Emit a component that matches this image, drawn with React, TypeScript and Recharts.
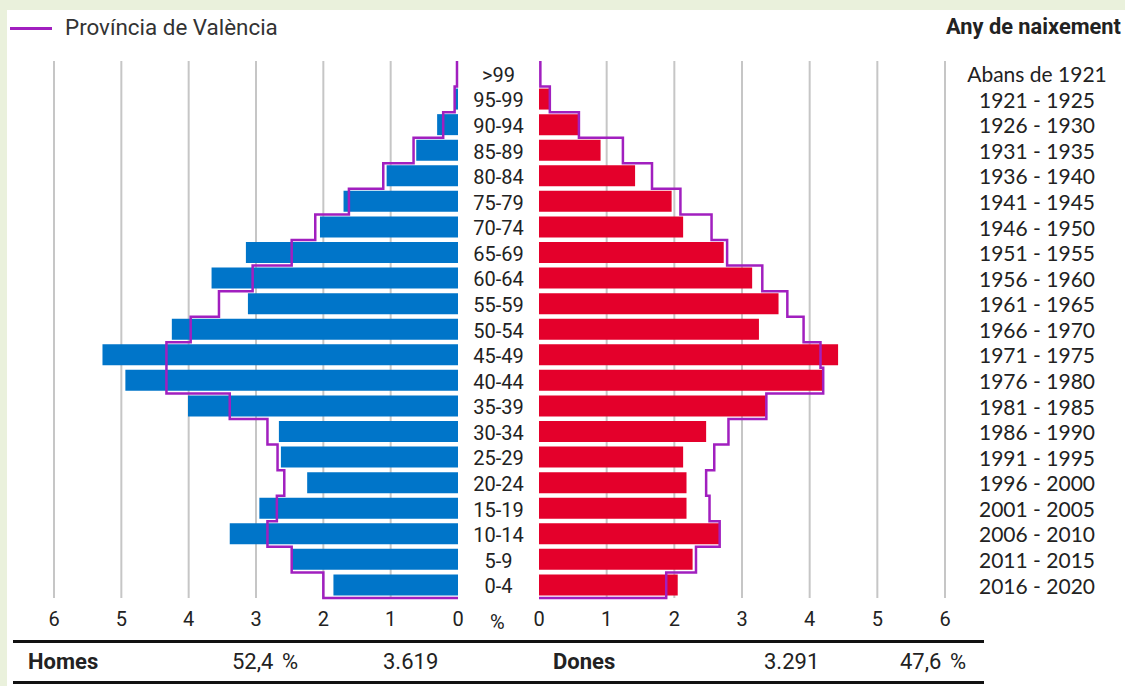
import React from 'react';
import { ComposedChart, Bar, Line, XAxis, YAxis, CartesianGrid } from 'recharts';

// age groups, top of the pyramid first
const ages = ['>99', '95-99', '90-94', '85-89', '80-84', '75-79', '70-74', '65-69', '60-64', '55-59', '50-54',
  '45-49', '40-44', '35-39', '30-34', '25-29', '20-24', '15-19', '10-14', '5-9', '0-4'];

const birthYears = ['Abans de 1921', '1921 - 1925', '1926 - 1930', '1931 - 1935', '1936 - 1940', '1941 - 1945',
  '1946 - 1950', '1951 - 1955', '1956 - 1960', '1961 - 1965', '1966 - 1970', '1971 - 1975', '1976 - 1980',
  '1981 - 1985', '1986 - 1990', '1991 - 1995', '1996 - 2000', '2001 - 2005', '2006 - 2010', '2011 - 2015',
  '2016 - 2020'];

// % of total population
const homes = [0.01, 0.06, 0.31, 0.62, 1.06, 1.70, 2.05, 3.15, 3.66, 3.12, 4.25, 5.28, 4.94, 4.01, 2.66, 2.63,
  2.24, 2.95, 3.39, 2.47, 1.85];
const homesProvincia = [0.015, 0.05, 0.22, 0.66, 1.11, 1.62, 2.12, 2.47, 3.05, 3.55, 3.97, 4.33, 4.33, 3.39, 2.83,
  2.68, 2.58, 2.69, 2.83, 2.47, 2.0];
const dones = [0, 0.15, 0.58, 0.91, 1.42, 1.96, 2.13, 2.73, 3.15, 3.54, 3.25, 4.42, 4.19, 3.35, 2.47, 2.13, 2.18,
  2.18, 2.67, 2.27, 2.05];
const donesProvincia = [0.02, 0.16, 0.59, 1.24, 1.67, 2.09, 2.55, 2.78, 3.30, 3.67, 3.91, 4.16, 4.20, 3.36, 2.80,
  2.59, 2.47, 2.52, 2.67, 2.32, 1.88];

const pctTicks = [0, 1, 2, 3, 4, 5, 6];
const gridTicks = [1, 2, 3, 4, 5, 6];

const totals = { homesPct: '52,4 %', homesN: '3.619', donesN: '3.291', donesPct: '47,6 %' };

const data = ages.map((age, i) => ({
  age,
  year: birthYears[i],
  homes: homes[i],
  homesProvincia: homesProvincia[i],
  dones: dones[i],
  donesProvincia: donesProvincia[i],
}));

const BLUE = '#0075c9';
const RED = '#e4002b';
const PURPLE = '#a11fbf';
const GRID = '#c6c6c6';
const TEXT = '#222';
const FONT = 'Roboto, "Liberation Sans", sans-serif';

const CHART_H = 640;
const TOP = 61;
const AXIS_H = 42;
const LEFT_W = 539;
const LEFT_ML = 54;
const AGE_W = 81;
const RIGHT_X = 500;
const RIGHT_W = 625;
const RIGHT_ML = 39;
const YEAR_W = 180;

// step outline: one vertical run per band, joined at band edges, closed back to zero at the bottom
const bandStep = (zeroX: number) => (context: any) => {
  let pts: number[][] = [];
  return {
    areaStart() {},
    areaEnd() {},
    lineStart() { pts = []; },
    point(x: number, y: number) { pts.push([+x, +y]); },
    lineEnd() {
      if (!pts.length) return;
      const half = pts.length > 1 ? (pts[1][1] - pts[0][1]) / 2 : 0;
      pts.forEach(([x, y], i) => {
        if (i === 0) context.moveTo(x, y - half);
        else context.lineTo(x, y - half);
        context.lineTo(x, y + half);
      });
      const last = pts[pts.length - 1];
      context.lineTo(zeroX, last[1] + half);
    },
  };
};

const AgeTick = ({ x, y, payload }: any) => (
  <text x={x + AGE_W / 2} y={y} dy="0.4em" textAnchor="middle" fontSize={20} fill={TEXT} fontFamily={FONT}>
    {payload.value}
  </text>
);

const YearTick = ({ x, y, payload }: any) => (
  <text x={x + 92} y={y} dy="0.4em" textAnchor="middle" fontSize={21} fill={TEXT}
    fontFamily='Lato, "DejaVu Sans", sans-serif'>
    {payload.value}
  </text>
);

const xTick = { fontSize: 20, fill: TEXT, fontFamily: FONT };

const abs = (left: number, top: number, extra: React.CSSProperties = {}): React.CSSProperties => ({
  position: 'absolute', left, top, ...extra,
});

export default function App() {
  return (
    <div style={{ position: 'fixed', left: 0, top: 0, width: 1125, height: 686, background: '#eaf1dc', overflow: 'hidden', fontFamily: FONT, color: TEXT }}>
      <div style={abs(7, 10, { width: 1118, height: 676, background: '#fff' })} />

      {/* legend */}
      <div style={abs(10, 27, { width: 42, height: 3, background: PURPLE })} />
      <div style={abs(65, 13, { fontSize: 22.4, lineHeight: '28px', color: '#333' })}>Província de València</div>
      <div style={abs(946, 13, { fontSize: 21.8, lineHeight: '28px', fontWeight: 700, whiteSpace: 'nowrap' })}>Any de naixement</div>

      <div style={abs(0, 0)}>
        <ComposedChart width={LEFT_W} height={CHART_H} data={data} layout="vertical"
          margin={{ top: TOP, right: 0, bottom: 0, left: LEFT_ML }} barGap={0}>
          <CartesianGrid horizontal={false} verticalValues={gridTicks} stroke={GRID} strokeWidth={2} />
          <XAxis type="number" domain={[0, 6]} ticks={pctTicks} reversed axisLine={false} tickLine={false}
            tickMargin={8} height={AXIS_H} tick={xTick} interval={0} />
          <YAxis type="category" dataKey="age" orientation="right" width={AGE_W} axisLine={false}
            tickLine={false} tickSize={0} tickMargin={0} interval={0} tick={<AgeTick />} />
          <Bar dataKey="homes" fill={BLUE} barSize={21} isAnimationActive={false} />
          <Line dataKey="homesProvincia" type={bandStep(LEFT_W - AGE_W) as any} stroke={PURPLE} strokeWidth={2.5}
            dot={false} activeDot={false} isAnimationActive={false} />
        </ComposedChart>
      </div>

      <div style={abs(RIGHT_X, 0)}>
        <ComposedChart width={RIGHT_W} height={CHART_H} data={data} layout="vertical"
          margin={{ top: TOP, right: 0, bottom: 0, left: RIGHT_ML }} barGap={0}>
          <CartesianGrid horizontal={false} verticalValues={gridTicks} stroke={GRID} strokeWidth={2} />
          <XAxis type="number" domain={[0, 6]} ticks={pctTicks} axisLine={false} tickLine={false}
            tickMargin={8} height={AXIS_H} tick={xTick} interval={0} />
          <YAxis type="category" dataKey="year" orientation="right" width={YEAR_W} axisLine={false}
            tickLine={false} tickSize={0} tickMargin={0} interval={0} tick={<YearTick />} />
          <Bar dataKey="dones" fill={RED} barSize={21} isAnimationActive={false} />
          <Line dataKey="donesProvincia" type={bandStep(RIGHT_ML) as any} stroke={PURPLE} strokeWidth={2.5}
            dot={false} activeDot={false} isAnimationActive={false} />
        </ComposedChart>
      </div>

      <div style={abs(490, 608, { fontSize: 20, lineHeight: '28px' })}>%</div>

      {/* totals table */}
      <div style={abs(13, 640, { width: 971, height: 3, background: '#111' })} />
      <div style={abs(28, 647, { fontSize: 22, lineHeight: '30px', fontWeight: 700 })}>Homes</div>
      <div style={abs(232, 647, { fontSize: 22, lineHeight: '30px', wordSpacing: 3 })}>{totals.homesPct}</div>
      <div style={abs(383, 647, { fontSize: 22, lineHeight: '30px' })}>{totals.homesN}</div>
      <div style={abs(553, 647, { fontSize: 22, lineHeight: '30px', fontWeight: 700 })}>Dones</div>
      <div style={abs(764, 647, { fontSize: 22, lineHeight: '30px' })}>{totals.donesN}</div>
      <div style={abs(900, 647, { fontSize: 22, lineHeight: '30px', wordSpacing: 3 })}>{totals.donesPct}</div>
      <div style={abs(13, 681, { width: 971, height: 3, background: '#111' })} />
    </div>
  );
}
